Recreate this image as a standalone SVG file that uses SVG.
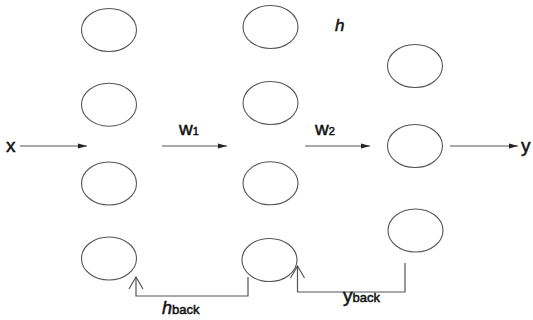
<svg xmlns="http://www.w3.org/2000/svg" width="533" height="320" viewBox="0 0 533 320">
<style>
.n{fill:none;stroke:#555;stroke-width:1.1}
.c{fill:none;stroke:#555;stroke-width:1.2}
.t{font-family:"Liberation Sans",Arial,sans-serif;fill:#111;stroke:#111;stroke-width:0.5}
.it{font-style:italic}
</style>
<defs>
<marker id="ah" viewBox="0 0 9 6" refX="9" refY="3" markerWidth="9" markerHeight="6" markerUnits="userSpaceOnUse" orient="auto">
<path d="M0,0.5 L9,3 L0,5.5 z" fill="#222"/>
</marker>
<marker id="av" viewBox="-13 -8 14 16" refX="0" refY="0" markerWidth="14" markerHeight="16" markerUnits="userSpaceOnUse" orient="auto">
<path d="M-12,-7 L0,0 L-12,7" fill="none" stroke="#555" stroke-width="1.2"/>
</marker>
</defs>
<rect width="533" height="320" fill="#fff"/>
<g id="n11"><ellipse class="n" cx="109" cy="30" rx="27.5" ry="21.5"/></g>
<g id="n12"><ellipse class="n" cx="109" cy="104.7" rx="27.5" ry="21.5"/></g>
<g id="n13"><ellipse class="n" cx="109" cy="183.5" rx="27.5" ry="21.5"/></g>
<g id="n14"><ellipse class="n" cx="109" cy="258.5" rx="27.5" ry="21.5"/></g>
<g id="n21"><ellipse class="n" cx="270.5" cy="27" rx="27.5" ry="21.5"/></g>
<g id="n22"><ellipse class="n" cx="270.5" cy="103" rx="27.5" ry="21.5"/></g>
<g id="n23"><ellipse class="n" cx="270.5" cy="183.3" rx="27.5" ry="21.5"/></g>
<g id="n24"><ellipse class="n" cx="269.5" cy="260" rx="27.5" ry="21.5"/></g>
<g id="n31"><ellipse class="n" cx="415" cy="66" rx="27.5" ry="21.5"/></g>
<g id="n32"><ellipse class="n" cx="415" cy="146" rx="27.5" ry="21.5"/></g>
<g id="n33"><ellipse class="n" cx="415.5" cy="230.5" rx="27.5" ry="21.5"/></g>
<g id="connectors">
<path class="c" d="M20,146 H87" marker-end="url(#ah)"/>
<path class="c" d="M162,146 H227" marker-end="url(#ah)"/>
<path class="c" d="M305,146 H370" marker-end="url(#ah)"/>
<path class="c" d="M450,146 H518" marker-end="url(#ah)"/>
<path class="c" d="M248,277 V296 H136 V277" marker-end="url(#av)"/>
<path class="c" d="M405,263 V292 H297.5 V266" marker-end="url(#av)"/>
</g>
<g id="labels">
<text class="t" x="6" y="152" font-size="19">x</text>
<text class="t" x="521" y="152" font-size="19">y</text>
<text class="t" x="179" y="135" font-size="19">w<tspan font-size="11">1</tspan></text>
<text class="t" x="315" y="135" font-size="19">w<tspan font-size="11">2</tspan></text>
<text class="t it" x="335" y="31" font-size="17">h</text>
<text class="t" x="162" y="314"><tspan class="it" font-size="18">h</tspan><tspan font-size="13">back</tspan></text>
<text class="t" x="343" y="302"><tspan font-size="19">y</tspan><tspan font-size="13">back</tspan></text>
</g>
</svg>
